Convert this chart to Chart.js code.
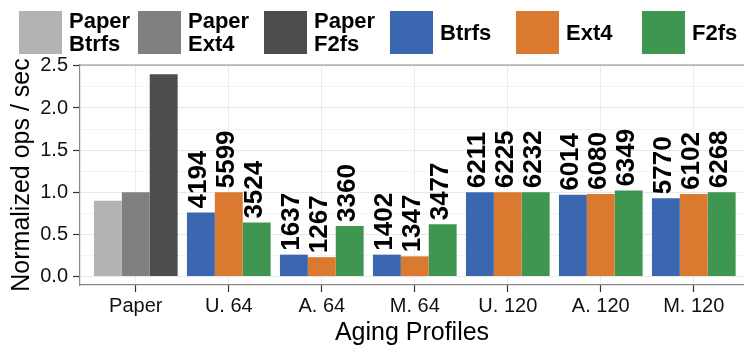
<!DOCTYPE html>
<html>
<head>
<meta charset="utf-8">
<script src="https://cdn.jsdelivr.net/npm/chart.js@4.4.0/dist/chart.umd.min.js"></script>
<style>
  html, body { margin: 0; padding: 0; background: #fff; }
  body { width: 744px; height: 346px; overflow: hidden; position: relative;
         font-family: "Liberation Sans", Arial, sans-serif; }
  #chart { position: absolute; left: 0; top: 0; }
  #legend { position: absolute; left: 12px; top: 9px; display: flex; }
  .item { display: flex; align-items: center; width: 126px; }
  .item:first-child { width: 119px; margin-left: 7px; }
  .sw { width: 43px; height: 43px; flex: none; }
  .lab { margin-left: 7px; font-weight: bold; font-size: 22px; line-height: 23px; color: #000; }
</style>
</head>
<body>
<canvas id="chart" width="744" height="346"></canvas>
<div id="legend"></div>
<script>
// categories on the x axis
const categories = ['Paper', 'U. 64', 'A. 64', 'M. 64', 'U. 120', 'A. 120', 'M. 120'];

// normalized ops / sec (bar heights)
const paperBtrfs = [0.90, null, null, null, null, null, null];
const paperExt4  = [1.00, null, null, null, null, null, null];
const paperF2fs  = [2.40, null, null, null, null, null, null];
const btrfs = [null, 0.76, 0.26, 0.26, 1.00, 0.97, 0.93];
const ext4  = [null, 1.00, 0.23, 0.24, 1.00, 0.98, 0.98];
const f2fs  = [null, 0.64, 0.60, 0.62, 1.00, 1.02, 1.00];

// raw ops / sec printed over the bars
const opsBtrfs = [null, 4194, 1637, 1402, 6211, 6014, 5770];
const opsExt4  = [null, 5599, 1267, 1347, 6225, 6080, 6102];
const opsF2fs  = [null, 3524, 3360, 3477, 6232, 6349, 6268];

// y axis ticks
const yMajor = [0, 0.5, 1, 1.5, 2, 2.5];
const yMajorLabels = ['0.0', '0.5', '1.0', '1.5', '2.0', '2.5'];
const yMinor = [0.25, 0.75, 1.25, 1.75, 2.25];

const seriesNames = ['Paper Btrfs', 'Paper Ext4', 'Paper F2fs', 'Btrfs', 'Ext4', 'F2fs'];
const seriesColors = ['#b3b3b3', '#808080', '#4d4d4d', '#3a67b0', '#da7a30', '#3e9650'];
const seriesValues = [paperBtrfs, paperExt4, paperF2fs, btrfs, ext4, f2fs];
const seriesOps = [null, null, null, opsBtrfs, opsExt4, opsF2fs];

Chart.defaults.font.family = '"Liberation Sans", Arial, sans-serif';

const datasets = seriesNames.map((name, k) => ({
  label: name,
  data: seriesValues[k].map((v, i) => ({ x: i, y: v })),
  counts: seriesOps[k],
  backgroundColor: seriesColors[k],
  borderWidth: 0,
  skipNull: true,
  categoryPercentage: 0.9,
  barPercentage: 1.0
}));

// html legend
const legend = document.getElementById('legend');
seriesNames.forEach((name, k) => {
  const it = document.createElement('div');
  it.className = 'item';
  it.innerHTML = '<div class="sw" style="background:' + seriesColors[k] + '"></div>' +
    '<div class="lab">' + name.replace(' ', '<br>') + '</div>';
  legend.appendChild(it);
});

// rotated value labels + top panel border
const barLabels = {
  id: 'barLabels',
  afterDatasetsDraw(chart) {
    const ctx = chart.ctx;
    ctx.save();
    ctx.font = 'bold 26px "Liberation Sans", Arial, sans-serif';
    ctx.fillStyle = '#000';
    ctx.textAlign = 'left';
    ctx.textBaseline = 'alphabetic';
    chart.data.datasets.forEach((ds, di) => {
      if (!ds.counts) return;
      chart.getDatasetMeta(di).data.forEach((bar, i) => {
        const c = ds.counts[i];
        if (c == null) return;
        ctx.save();
        ctx.translate(bar.x + 5, bar.y - 4);
        ctx.rotate(-Math.PI / 2);
        ctx.fillText(String(c), 0, 0);
        ctx.restore();
      });
    });
    const a = chart.chartArea;
    ctx.strokeStyle = '#888';
    ctx.lineWidth = 1.2;
    ctx.beginPath();
    ctx.moveTo(a.left, a.top);
    ctx.lineTo(a.right, a.top);
    ctx.stroke();
    ctx.restore();
  }
};

const isMajor = v => yMajor.includes(v);

new Chart(document.getElementById('chart'), {
  type: 'bar',
  data: { datasets },
  plugins: [barLabels],
  options: {
    responsive: false,
    animation: false,
    devicePixelRatio: 1,
    layout: { padding: { top: 65, left: 0, right: 0, bottom: 0 } },
    plugins: { legend: { display: false }, tooltip: { enabled: false } },
    scales: {
      x: {
        type: 'linear',
        offset: false,
        min: -0.6,
        max: 6.54,
        afterBuildTicks(s) { s.ticks = categories.map((c, i) => ({ value: i })); },
        afterFit(s) { s.height = 61; },
        ticks: {
          callback: v => categories[v],
          font: { size: 20 },
          color: '#111',
          padding: 2,
          maxRotation: 0,
          autoSkip: false
        },
        grid: { offset: false, color: '#ebebeb', tickColor: '#333', tickLength: 7, tickWidth: 1.2 },
        border: { color: '#888', width: 1.2 },
        title: { display: true, text: 'Aging Profiles', color: '#000',
                 font: { size: 25, lineHeight: 1 }, padding: 0 }
      },
      y: {
        min: -0.1,
        max: 2.51,
        afterBuildTicks(s) {
          s.ticks = yMajor.concat(yMinor).sort((a, b) => a - b).map(v => ({ value: v }));
        },
        afterFit(s) { s.width = 80; },
        ticks: {
          callback: v => isMajor(v) ? yMajorLabels[yMajor.indexOf(v)] : '',
          font: { size: 20 },
          color: '#111',
          padding: 5,
          autoSkip: false
        },
        grid: {
          color: c => isMajor(c.tick.value) ? '#e8e8e8' : '#f3f3f3',
          tickColor: c => isMajor(c.tick.value) ? '#333' : 'rgba(0,0,0,0)',
          tickLength: 7,
          tickWidth: 1.2
        },
        border: { color: '#888', width: 1.2 },
        title: { display: true, text: 'Normalized ops / sec', color: '#000',
                 font: { size: 25, lineHeight: 1.2 }, padding: { top: 7, bottom: 0 } }
      }
    }
  }
});
</script>
</body>
</html>
